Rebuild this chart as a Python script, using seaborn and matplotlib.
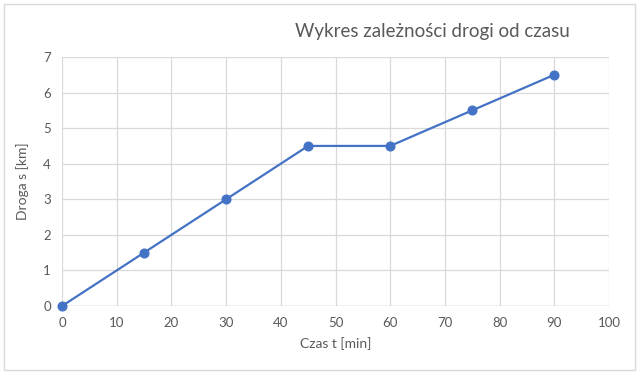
import matplotlib
matplotlib.use("Agg")
import matplotlib.pyplot as plt
import seaborn as sns
import pandas as pd
from matplotlib.patches import Rectangle

czas = [0, 15, 30, 45, 60, 75, 90]
droga = [0, 1.5, 3, 4.5, 4.5, 5.5, 6.5]
x_ticks = [0, 10, 20, 30, 40, 50, 60, 70, 80, 90, 100]
y_ticks = [0, 1, 2, 3, 4, 5, 6, 7]

sns.set_theme(style="white")
plt.rcParams['font.family'] = ['Lato', 'DejaVu Sans']

df = pd.DataFrame({"czas": czas, "droga": droga})

fig = plt.figure(figsize=(6.4, 3.74), dpi=100)
ax = fig.add_axes([62/640, 1-306/374, (609-62)/640, (306-57)/374])

sns.lineplot(data=df, x="czas", y="droga", ax=ax, color="#4472C4", linewidth=1.6,
             marker="o", markersize=6.5, markeredgecolor="#4472C4", zorder=3, clip_on=False)

ax.set_xlim(0, 100)
ax.set_ylim(0, 7)
ax.set_xticks(x_ticks)
ax.set_yticks(y_ticks)
ax.grid(True, color="#d9d9d9", linewidth=0.9)
for s in ax.spines.values():
    s.set_visible(False)
ax.axhline(0, color="#d0d0d0", linewidth=1.0, zorder=1)
ax.tick_params(axis="both", length=0, labelsize=9.5, labelcolor="#595959", pad=8)
ax.set_xlabel("Czas t [min]", fontsize=10, color="#595959", labelpad=6)
ax.set_ylabel("Droga s [km]", fontsize=10, color="#595959", labelpad=10)

fig.text(432/640, 1-32/374, "Wykres zależności drogi od czasu", ha="center", va="center",
         fontsize=13.5, color="#595959")

fig.patches.append(Rectangle((4/640, 4/374), 631/640, 366/374, transform=fig.transFigure,
                             fill=False, edgecolor="#d9d9d9", linewidth=1.0))

fig.savefig("out.png", dpi=100)
